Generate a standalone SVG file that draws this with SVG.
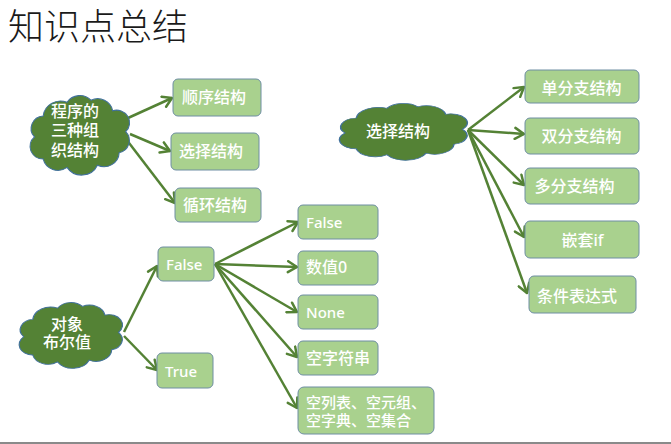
<svg xmlns="http://www.w3.org/2000/svg" width="671" height="444" viewBox="0 0 671 444">
<style>
.cloud{fill:#548235;stroke:#41719c;stroke-width:1}
.box{fill:#a9d18e;stroke:#6e8ea3;stroke-width:1}
.t{fill:#ffffff;font-family:"Noto Sans","Noto Sans CJK SC",sans-serif;font-size:16px;font-weight:500}
.tl{fill:#ffffff;font-family:"Noto Sans","Noto Sans CJK SC",sans-serif;font-size:15px;font-weight:500}
.a{stroke:#548235;stroke-width:2.5;fill:none;marker-end:url(#ah)}
</style>
<defs>
<marker id="ah" markerUnits="userSpaceOnUse" markerWidth="14" markerHeight="14" refX="11" refY="7" orient="auto">
<path d="M2,1.5 L11,7 L2,12.5" fill="none" stroke="#548235" stroke-width="2.5" stroke-linecap="round" stroke-linejoin="round"/>
</marker>
<path id="cl" d="M10,45 A12,12 0 0 1 18,25 A16,16 0 0 1 40,12 A14,14 0 0 1 62,10 A14,14 0 0 1 82,20 A12,12 0 0 1 94,40 A12,12 0 0 1 88,60 A14,14 0 0 1 68,72 A16,16 0 0 1 40,74 A14,14 0 0 1 18,66 A12,12 0 0 1 10,45 Z"/>
</defs>
<rect width="671" height="444" fill="#ffffff"/>
<text x="8" y="40" font-family="'Noto Sans CJK SC',sans-serif" font-size="36" font-weight="300" fill="#1a1a1a">知识点总结</text>
<line x1="0" y1="443" x2="671" y2="443" stroke="#8a8a8a" stroke-width="2"/>

<g id="connectors">
<line class="a" x1="128" y1="118" x2="172" y2="98"/>
<line class="a" x1="130" y1="134" x2="170" y2="151"/>
<line class="a" x1="126" y1="139" x2="175" y2="203"/>
<line class="a" x1="124" y1="332" x2="157" y2="266"/>
<line class="a" x1="124" y1="336" x2="157" y2="370"/>
<line class="a" x1="215" y1="264" x2="298" y2="222"/>
<line class="a" x1="215" y1="264" x2="297" y2="267"/>
<line class="a" x1="215" y1="264" x2="297" y2="312"/>
<line class="a" x1="215" y1="264" x2="297" y2="357"/>
<line class="a" x1="215" y1="264" x2="297" y2="408"/>
<line class="a" x1="468" y1="130" x2="524" y2="87"/>
<line class="a" x1="468" y1="130" x2="524" y2="134"/>
<line class="a" x1="468" y1="130" x2="524" y2="185"/>
<line class="a" x1="468" y1="130" x2="524" y2="237"/>
<line class="a" x1="468" y1="130" x2="527" y2="293"/>
</g>

<g id="cloud-program">
<use href="#cl" class="cloud" transform="translate(23.6,89.7) scale(1.086,1.05)"/>
<text class="t" x="75" y="117" text-anchor="middle">程序的</text>
<text class="t" x="75" y="136" text-anchor="middle">三种组</text>
<text class="t" x="75" y="156" text-anchor="middle">织结构</text>
</g>
<g id="n-shunxu"><rect class="box" x="173" y="79" width="88" height="37" rx="5"/><text class="t" x="214" y="103" text-anchor="middle">顺序结构</text></g>
<g id="n-xuanze"><rect class="box" x="171" y="133" width="88" height="37" rx="5"/><text class="t" x="211" y="157" text-anchor="middle">选择结构</text></g>
<g id="n-xunhuan"><rect class="box" x="175" y="188" width="86" height="34" rx="5"/><text class="t" x="215" y="211" text-anchor="middle">循环结构</text></g>

<g id="cloud-bool">
<use href="#cl" class="cloud" transform="translate(12.4,297.7) scale(1.129,0.868)"/>
<text class="t" x="67" y="330" text-anchor="middle">对象</text>
<text class="t" x="67" y="348" text-anchor="middle">布尔值</text>
</g>
<g id="n-false"><rect class="box" x="158" y="247" width="56" height="34" rx="5"/><text class="tl" x="166" y="270">False</text></g>
<g id="n-true"><rect class="box" x="157" y="353" width="56" height="35" rx="5"/><text class="tl" x="165" y="377">True</text></g>
<g id="n-f1"><rect class="box" x="298" y="205" width="80" height="34" rx="5"/><text class="tl" x="306" y="228">False</text></g>
<g id="n-f2"><rect class="box" x="298" y="251" width="80" height="34" rx="5"/><text class="t" x="306" y="273">数值0</text></g>
<g id="n-f3"><rect class="box" x="298" y="295" width="80" height="34" rx="5"/><text class="tl" x="306" y="318">None</text></g>
<g id="n-f4"><rect class="box" x="298" y="341" width="80" height="34" rx="5"/><text class="t" x="306" y="364">空字符串</text></g>
<g id="n-f5"><rect class="box" x="298" y="387" width="136" height="47" rx="6"/><text class="tl" x="306" y="408">空列表、空元组、</text><text class="tl" x="306" y="426">空字典、空集合</text></g>

<g id="cloud-select">
<use href="#cl" class="cloud" transform="translate(331,99.25) scale(1.398,0.75)"/>
<text class="t" x="398" y="137" text-anchor="middle">选择结构</text>
</g>
<g id="n-s1"><rect class="box" x="525" y="70" width="114" height="33" rx="5"/><text class="t" x="581.5" y="94" text-anchor="middle">单分支结构</text></g>
<g id="n-s2"><rect class="box" x="525" y="118" width="114" height="36" rx="5"/><text class="t" x="581.5" y="142" text-anchor="middle">双分支结构</text></g>
<g id="n-s3"><rect class="box" x="525" y="168" width="114" height="36" rx="5"/><text class="t" x="574.5" y="192" text-anchor="middle">多分支结构</text></g>
<g id="n-s4"><rect class="box" x="525" y="221" width="114" height="37" rx="5"/><text class="t" x="582.5" y="246" text-anchor="middle">嵌套if</text></g>
<g id="n-s5"><rect class="box" x="529" y="276" width="107" height="37" rx="5"/><text class="t" x="577" y="302" text-anchor="middle">条件表达式</text></g>
</svg>
